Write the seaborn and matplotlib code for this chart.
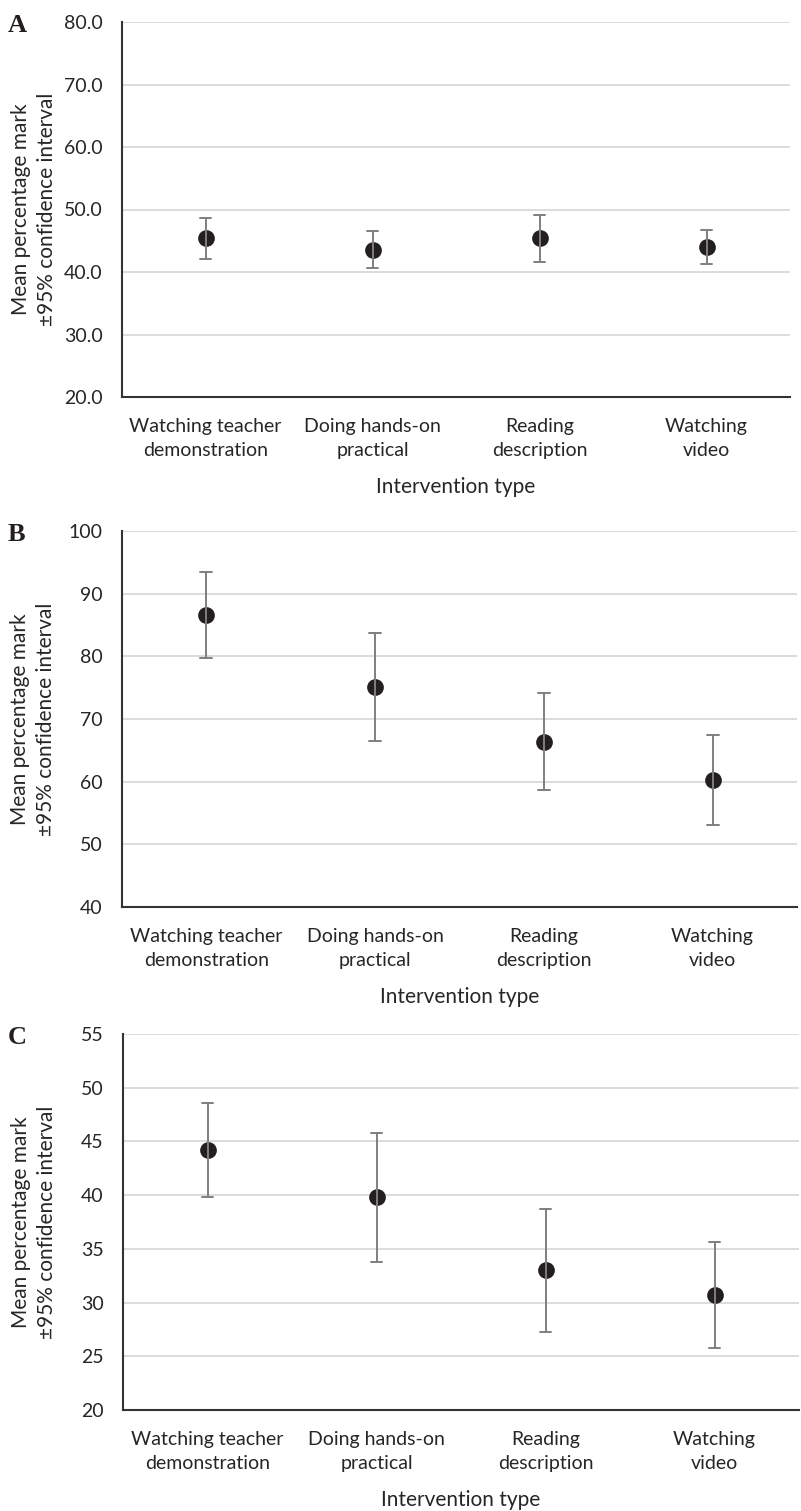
import pandas as pd
import matplotlib
matplotlib.use("Agg")
import matplotlib.pyplot as plt
import seaborn as sns

# data (mean, lower CI, upper CI)
categories = ["Watching teacher\ndemonstration", "Doing hands-on\npractical",
              "Reading\ndescription", "Watching\nvideo"]

mean_a = [45.4, 43.6, 45.4, 44.0]
low_a = [42.1, 40.7, 41.6, 41.3]
high_a = [48.7, 46.5, 49.1, 46.7]

mean_b = [86.6, 75.1, 66.4, 60.3]
low_b = [79.8, 66.5, 58.7, 53.1]
high_b = [93.4, 83.7, 74.1, 67.5]

mean_c = [44.2, 39.8, 33.0, 30.7]
low_c = [39.8, 33.8, 27.3, 25.8]
high_c = [48.6, 45.8, 38.7, 35.6]

sns.set_theme(style="white")
plt.rcParams['font.family'] = ['Lato', 'DejaVu Sans']

W, H = 801, 1511
fig = plt.figure(figsize=(W / 100, H / 100), dpi=100)

panels = [
    # letter, means, lows, highs, (left, right, top, bottom px), ylim, step, fmt
    ("A", mean_a, low_a, high_a, (122, 790, 22, 397), (20, 80), 10, "{:.1f}"),
    ("B", mean_b, low_b, high_b, (122, 797, 531, 907), (40, 100), 10, "{:.0f}"),
    ("C", mean_c, low_c, high_c, (123, 799, 1034, 1410), (20, 55), 5, "{:.0f}"),
]

text_col = "#262626"

for letter, means, lows, highs, box, ylim, step, fmt in panels:
    l, r, t, b = box
    ax = fig.add_axes([l / W, 1 - b / H, (r - l) / W, (b - t) / H])

    # three rows per category: low, mean, high -> median is the mean, min/max the CI
    df = pd.DataFrame({
        "cat": [c for c in categories for _ in range(3)],
        "val": [v for trip in zip(lows, means, highs) for v in trip],
    })
    sns.pointplot(data=df, x="cat", y="val", estimator="median",
                  errorbar=lambda v: (v.min(), v.max()),
                  linestyle="none", color="#231f20", markersize=10,
                  capsize=0.07, err_kws={"color": "#7f7f7f", "linewidth": 1.4},
                  ax=ax, zorder=3)

    ax.set_xlim(-0.5, 3.5)
    ax.set_ylim(*ylim)
    ticks = list(range(ylim[0], ylim[1] + 1, step))
    ax.set_yticks(ticks)
    ax.set_yticklabels([fmt.format(v) for v in ticks])
    ax.yaxis.grid(True, color="#d9d9d9", linewidth=1.3)
    ax.set_axisbelow(True)

    for side in ["top", "right"]:
        ax.spines[side].set_visible(False)
    for side in ["left", "bottom"]:
        ax.spines[side].set_color("#333333")
        ax.spines[side].set_linewidth(1.5)

    ax.tick_params(axis="y", length=0, pad=14, labelsize=14, labelcolor=text_col)
    ax.tick_params(axis="x", length=0, pad=15, labelsize=14, labelcolor=text_col)
    for lab in ax.get_xticklabels():
        lab.set_linespacing(1.5)

    ax.set_xlabel("Intervention type", fontsize=15, color=text_col, labelpad=13)
    ax.set_ylabel("Mean percentage mark\n±95% confidence interval",
                  fontsize=15, color=text_col, linespacing=1.35)
    ax.yaxis.set_label_coords(-0.098, 0.5)

    fig.text(8 / W, 1 - (t - 8) / H, letter, fontsize=19, fontweight="bold",
             family="Liberation Serif", color="#231f20", va="top", ha="left")

fig.savefig("out.png", dpi=100)
